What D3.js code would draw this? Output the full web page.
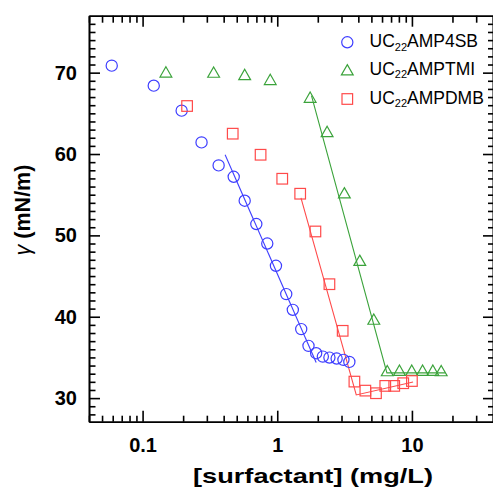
<!DOCTYPE html>
<html>
<head>
<meta charset="utf-8">
<script src="https://cdn.jsdelivr.net/npm/d3@7"></script>
<style>
  html, body { margin: 0; padding: 0; background: #fff; }
  svg { display: block; }
</style>
</head>
<body>
<svg id="chart" width="493" height="492"></svg>
<script>
// tick labels
const xTickValues = [0.1, 1, 10];
const xTickLabels = ["0.1", "1", "10"];
const yTickValues = [30, 40, 50, 60, 70];

// UC22AMP4SB (circles)
const amp4sbConc = [0.059, 0.121, 0.195, 0.274, 0.367, 0.475, 0.573, 0.699, 0.843, 0.978,
  1.166, 1.305, 1.506, 1.706, 1.945, 2.18, 2.44, 2.76, 3.10, 3.43];
const amp4sbGamma = [70.86, 68.4, 65.33, 61.43, 58.6, 57.2, 54.26, 51.39, 49.0, 46.26,
  42.78, 40.85, 38.48, 36.42, 35.52, 35.1, 34.98, 34.86, 34.7, 34.45];
const amp4sbFitConc = [0.41, 1.945];
const amp4sbFitGamma = [59.91, 34.37];

// UC22AMPTMI (triangles)
const amptmiConc = [0.149, 0.337, 0.573, 0.887, 1.755, 2.345, 3.15, 4.10, 5.21, 6.56,
  8.08, 9.97, 12.0, 14.3, 16.5];
const amptmiGamma = [70.06, 70.04, 69.75, 69.14, 66.96, 62.74, 55.2, 46.91, 39.68, 33.35,
  33.4, 33.4, 33.4, 33.4, 33.35];
const amptmiFitConc = [1.795, 6.52, 17.6];
const amptmiFitGamma = [67.17, 33.1, 33.1];

// UC22AMPDMB (squares)
const ampdmbConc = [0.214, 0.467, 0.752, 1.089, 1.48, 1.92, 2.44, 3.06, 3.74, 4.51,
  5.41, 6.34, 7.39, 8.62, 10.0];
const ampdmbGamma = [65.9, 62.5, 59.91, 56.96, 55.12, 50.48, 44.0, 38.27, 32.03, 30.92,
  30.6, 31.5, 31.5, 31.83, 32.1];
const ampdmbFitConc = [1.50, 3.86, 10.2];
const ampdmbFitGamma = [54.62, 30.39, 31.99];

const seriesNames = ["AMP4SB", "AMPTMI", "AMPDMB"];

const blue = "#3d3dff";
const green = "#3ba33b";
const red = "#ff4a4a";

const font = "'Liberation Sans', Arial, Helvetica, sans-serif";
const margin = { top: 15.7, right: 0, bottom: 70.3, left: 89 };
const width = 493 - margin.left - margin.right;
const height = 492 - margin.top - margin.bottom;

const svg = d3.select("#chart");
const g = svg.append("g").attr("transform", `translate(${margin.left},${margin.top})`);

const x = d3.scaleLog().domain([0.04, 40]).range([0, width]);
const y = d3.scaleLinear().domain([27.1, 77]).range([height, 0]);

const xMinor = x.ticks().filter(v => !xTickValues.some(t => Math.abs(t - v) < 1e-9));
const yMinor = d3.range(28, 77).filter(v => v % 10 !== 0);

function styleAxis(sel) {
  sel.selectAll("line").attr("stroke", "#000").attr("stroke-width", 1.6);
  sel.selectAll("path").attr("stroke", "#000").attr("stroke-width", 1.6);
  sel.selectAll("text")
    .attr("fill", "#000")
    .style("font-family", font)
    .style("font-weight", "bold")
    .style("font-size", "20px");
}

// bottom
g.append("g").attr("transform", `translate(0,${height})`)
  .call(d3.axisBottom(x).tickValues(xMinor).tickSize(-6).tickSizeOuter(0).tickFormat(""))
  .call(styleAxis);
g.append("g").attr("transform", `translate(0,${height})`)
  .call(d3.axisBottom(x).tickValues(xTickValues).tickSize(-11).tickSizeOuter(0)
    .tickPadding(16).tickFormat((d, i) => xTickLabels[i]))
  .call(styleAxis);
// top
g.append("g")
  .call(d3.axisTop(x).tickValues(xMinor).tickSize(-7).tickSizeOuter(0).tickFormat(""))
  .call(styleAxis);
g.append("g")
  .call(d3.axisTop(x).tickValues(xTickValues).tickSize(-11).tickSizeOuter(0).tickFormat(""))
  .call(styleAxis);
// left
g.append("g")
  .call(d3.axisLeft(y).tickValues(yMinor).tickSize(-6.5).tickSizeOuter(0).tickFormat(""))
  .call(styleAxis);
g.append("g")
  .call(d3.axisLeft(y).tickValues(yTickValues).tickSize(-11).tickSizeOuter(0).tickPadding(12))
  .call(styleAxis);
// right
g.append("g").attr("transform", `translate(${width},0)`)
  .call(d3.axisRight(y).tickValues(yMinor).tickSize(-5).tickSizeOuter(0).tickFormat(""))
  .call(styleAxis);
g.append("g").attr("transform", `translate(${width},0)`)
  .call(d3.axisRight(y).tickValues(yTickValues).tickSize(-10).tickSizeOuter(0).tickFormat(""))
  .call(styleAxis);

// fit lines
const line = d3.line().x(d => x(d[0])).y(d => y(d[1]));
const fits = [
  [d3.zip(amp4sbFitConc, amp4sbFitGamma), blue],
  [d3.zip(amptmiFitConc, amptmiFitGamma), green],
  [d3.zip(ampdmbFitConc, ampdmbFitGamma), red],
];
fits.forEach(([pts, color]) => {
  g.append("path").datum(pts).attr("d", line)
    .attr("fill", "none").attr("stroke", color).attr("stroke-width", 1.1);
});

// markers
const triPath = "M0,-5.4L5.9,4.9L-5.9,4.9Z";
function drawMarker(sel, shape, color) {
  if (shape === "circle") {
    sel.append("circle").attr("r", 5.6);
  } else if (shape === "triangle") {
    sel.append("path").attr("d", triPath);
  } else {
    sel.append("rect").attr("x", -5.3).attr("y", -5.3).attr("width", 10.6).attr("height", 10.6);
  }
  sel.selectAll("*").attr("fill", "none").attr("stroke", color).attr("stroke-width", 1.2);
}

const series = [
  { conc: amp4sbConc, gamma: amp4sbGamma, shape: "circle", color: blue },
  { conc: amptmiConc, gamma: amptmiGamma, shape: "triangle", color: green },
  { conc: ampdmbConc, gamma: ampdmbGamma, shape: "square", color: red },
];
series.forEach(s => {
  d3.zip(s.conc, s.gamma).forEach(([c, v]) => {
    const m = g.append("g").attr("transform", `translate(${x(c)},${y(v)})`);
    drawMarker(m, s.shape, s.color);
  });
});

// legend
const legend = svg.append("g");
const legendRows = [42.3, 70, 99];
series.forEach((s, i) => {
  const m = legend.append("g").attr("transform", `translate(347.3,${legendRows[i]})`);
  drawMarker(m, s.shape, s.color);
  const t = legend.append("text")
    .attr("x", 369.5).attr("y", legendRows[i] + 4.8)
    .style("font-family", font).style("font-size", "17.5px").attr("fill", "#000");
  t.append("tspan").text("UC");
  t.append("tspan").attr("dy", 3.6).style("font-size", "11px").text("22");
  t.append("tspan").attr("dy", -3.6).text(seriesNames[i]);
});

// axis titles
svg.append("text")
  .attr("x", 313).attr("y", 483)
  .attr("text-anchor", "middle")
  .attr("textLength", 240).attr("lengthAdjust", "spacingAndGlyphs")
  .style("font-family", font).style("font-weight", "bold").style("font-size", "21px")
  .text("[surfactant] (mg/L)");

const yt = svg.append("text")
  .attr("transform", "translate(30,210) rotate(-90)")
  .attr("text-anchor", "middle")
  .style("font-family", font).style("font-weight", "bold").style("font-size", "21.5px");
yt.append("tspan").style("font-style", "italic").style("font-weight", "normal").text("γ");
yt.append("tspan").text(" (mN/m)");
</script>
</body>
</html>
